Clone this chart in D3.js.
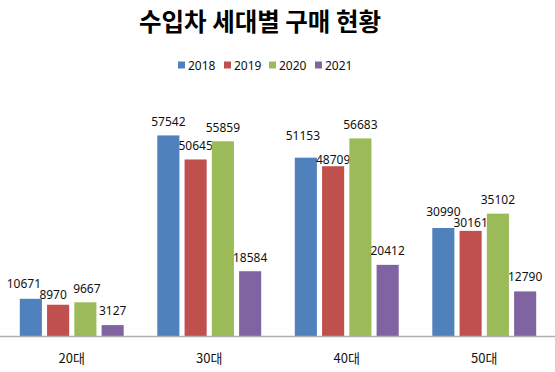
<!DOCTYPE html>
<html><head><meta charset="utf-8">
<script src="https://cdn.jsdelivr.net/npm/d3@7"></script>
<style>body{margin:0;background:#fff}svg{display:block}</style>
</head><body>
<script>
const categories = ["20대","30대","40대","50대"];
const years = ["2018","2019","2020","2021"];
const s2018 = [10671,57542,51153,30990];
const s2019 = [8970,50645,48709,30161];
const s2020 = [9667,55859,56683,35102];
const s2021 = [3127,18584,20412,12790];
const seriesValues = [s2018,s2019,s2020,s2021];
const colors = ["#4F81BD","#C0504D","#9BBB59","#8064A2"];
// label nudges [dx,dy] per series per category (layout only)
const labelNudge = [
  [[-7,-1],[0,0],[-3,-7.5],[0,-2.5]],
  [[-5,4],[0,0],[0,7.5],[0,6.3]],
  [[1.5,0],[0,0],[0,0],[0,0]],
  [[0,0],[0,0],[0,0],[0,-1]]
];

const W=555,H=372;
const svg=d3.select("body").append("svg").attr("width",W).attr("height",H);
const font="'Noto Sans CJK KR','Noto Sans',sans-serif";

svg.append("text").attr("x",260).attr("y",31).attr("text-anchor","middle")
  .attr("font-family",font).attr("font-weight","bold").attr("font-size",24.5).attr("fill","#000")
  .text("수입차 세대별 구매 현황");

// legend
const legX=[178,224,269,315];
years.forEach((y,i)=>{
  const g=svg.append("g").attr("transform",`translate(${legX[i]},65)`);
  g.append("rect").attr("x",0).attr("y",-3.5).attr("width",7).attr("height",7).attr("fill",colors[i]);
  g.append("text").attr("x",10).attr("y",4.5).attr("font-family","'Noto Sans',sans-serif")
   .attr("font-size",12).attr("fill","#111").text(y);
});

const x0=d3.scaleBand().domain(categories).range([3,553]).paddingInner(0).paddingOuter(0);
const x1=d3.scaleBand().domain(years).range([16.8,x0.bandwidth()-16.8]).paddingInner(0.19).paddingOuter(0);
const y=d3.scaleLinear().domain([0,70000]).range([336,92]);

categories.forEach((c,ci)=>{
  const g=svg.append("g").attr("transform",`translate(${x0(c)},0)`);
  years.forEach((yr,si)=>{
    const v=seriesValues[si][ci];
    g.append("rect").attr("x",x1(yr)).attr("y",y(v)).attr("width",x1.bandwidth())
     .attr("height",y(0)-y(v)).attr("fill",colors[si]);
    const [dx,dy]=labelNudge[si][ci];
    g.append("text").attr("x",x1(yr)+x1.bandwidth()/2+dx).attr("y",y(v)-9.7+dy)
     .attr("text-anchor","middle").attr("font-family","'Noto Sans',sans-serif")
     .attr("font-size",12).attr("fill","#111").text(v);
  });
});

svg.append("line").attr("x1",0).attr("x2",W).attr("y1",336.5).attr("y2",336.5)
  .attr("stroke","#b0b0b0").attr("stroke-width",1.5);

const xAxis=d3.axisBottom(x0).tickSize(0).tickPadding(17);
const ax=svg.append("g").attr("transform","translate(0,337)").call(xAxis);
ax.select(".domain").remove();
ax.selectAll("text").attr("font-family",font).attr("font-size",13).attr("fill","#111");
</script>
</body></html>
